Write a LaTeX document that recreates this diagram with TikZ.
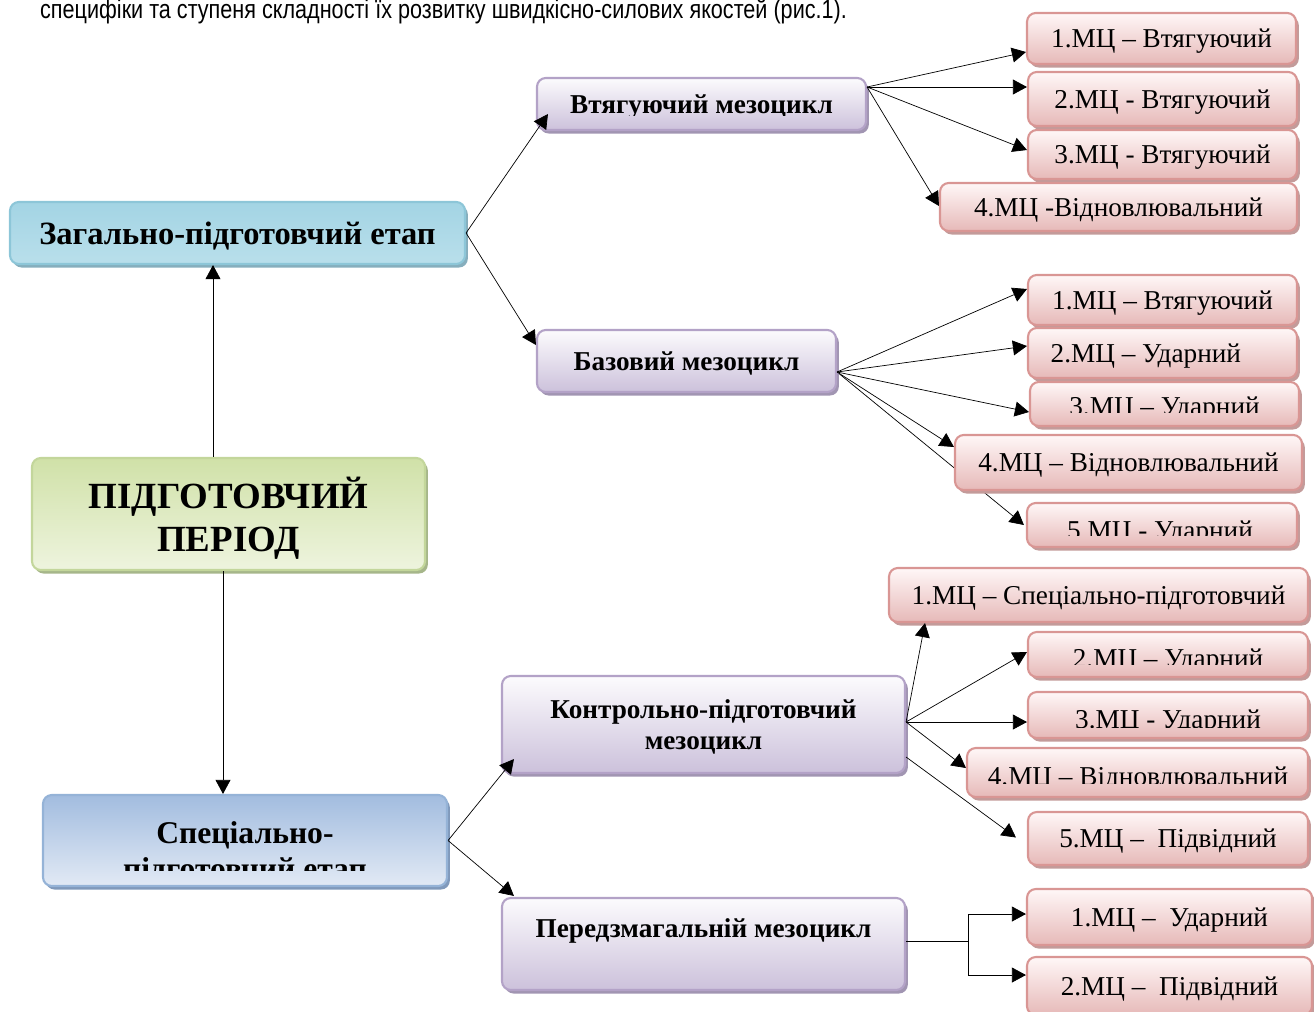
\documentclass[tikz,border=0pt]{standalone}
\usepackage{fontspec}
\setmainfont{Liberation Serif}
\newfontfamily\narrowsans[FakeStretch=0.82]{Liberation Sans}
\usetikzlibrary{arrows.meta,calc,shadows,backgrounds}
\definecolor{zagline}{HTML}{8DC6D8}
\definecolor{zagtop}{HTML}{A3D4E4}
\definecolor{zagmid}{HTML}{D8EEF5}
\definecolor{zagbot}{HTML}{B9DFEB}
\definecolor{zagshade}{HTML}{86AEBD}
\definecolor{pidline}{HTML}{C3D69B}
\definecolor{pidtop}{HTML}{D0E1A8}
\definecolor{pidbot}{HTML}{EEF4DE}
\definecolor{pidshade}{HTML}{A6B68A}
\definecolor{specline}{HTML}{95B3D7}
\definecolor{spectop}{HTML}{A2BCDF}
\definecolor{specbot}{HTML}{E2EAF5}
\definecolor{specshade}{HTML}{8099BB}
\definecolor{mesoline}{HTML}{B3A2C7}
\definecolor{mesotop}{HTML}{FCFBFD}
\definecolor{mesobot}{HTML}{CCC1DB}
\definecolor{mesoshade}{HTML}{A195B2}
\definecolor{mcline}{HTML}{D99694}
\definecolor{mctop}{HTML}{FFF7F7}
\definecolor{mcbot}{HTML}{E6B9B8}
\definecolor{mcshade}{HTML}{C39B9A}
\tikzset{sz/.style 2 args = {minimum width=#1*0.02cm, minimum height=#2*0.02cm}}
\newcommand\cuttext[5]{%
  \begin{scope}
  \clip (#1.north west) rectangle (#1.east |- 0,#4);
  \node[#2] (#1t) at #3 {#5};
  \end{scope}}

\begin{document}
\begin{tikzpicture}
[x=0.02cm,y=-0.02cm,>={Triangle[length=8pt,width=8.5pt]},line width=1.5pt,
box/.style = {draw, line width=1.2pt, rounded corners=5pt, inner sep=0pt, text depth=0pt},
zagbox/.style = {box, draw=zagline, top color=zagtop, middle color=zagmid, bottom color=zagbot, drop shadow={shadow xshift=1.6pt, shadow yshift=-2pt, fill=zagshade, opacity=1}, font=\fontsize{18.5}{21}\selectfont\bfseries},
pidbox/.style = {box, draw=pidline, top color=pidtop, bottom color=pidbot, drop shadow={shadow xshift=1.6pt, shadow yshift=-2pt, fill=pidshade, opacity=1}, font=\fontsize{21}{24.5}\selectfont\bfseries},
specbox/.style = {box, draw=specline, top color=spectop, bottom color=specbot, drop shadow={shadow xshift=1.6pt, shadow yshift=-2pt, fill=specshade, opacity=1}},
spectext/.style = {font=\fontsize{18}{20.5}\selectfont\bfseries, align=center},
meso/.style = {box, draw=mesoline, top color=mesotop, bottom color=mesobot, drop shadow={shadow xshift=1.6pt, shadow yshift=-2pt, fill=mesoshade, opacity=1}, font=\fontsize{15.5}{18}\selectfont\bfseries},
mesotext/.style = {font=\fontsize{15.5}{18}\selectfont\bfseries, anchor=base},
mc/.style = {box, draw=mcline, top color=mctop, bottom color=mcbot, drop shadow={shadow xshift=1.6pt, shadow yshift=-2pt, fill=mcshade, opacity=1}, font=\fontsize{15.5}{18}\selectfont},
mctext/.style = {font=\fontsize{15.5}{18}\selectfont, anchor=base},
]
\useasboundingbox (0,0) rectangle (1314,1011);
\node[anchor=base west,font=\narrowsans\fontsize{15}{17}\selectfont] (caption) at (33,18) {специфіки та ступеня складності їх розвитку швидкісно-силових якостей (рис.1).};
\node[zagbox,sz={455}{62}] (Zag) at (237.5,233) {Загально-підготовчий етап};
\node[pidbox,sz={393}{112},align=center] (Pid) at (228.5,514) {ПІДГОТОВЧИЙ\\ПЕРІОД};
\node[specbox,sz={404}{91}] (Spec) at (245,840.5) {};
\cuttext{Spec}{spectext}{(245,853)}{870}{Спеціально-\\підготовчий етап}
\node[meso,sz={329}{52}] (V) at (701.5,104) {};
\cuttext{V}{mesotext}{(701.5,113)}{115.5}{Втягуючий мезоцикл}
\node[meso,sz={299}{62}] (B) at (686.5,361) {Базовий мезоцикл};
\node[meso,sz={403}{97},align=center] (K) at (703.5,724.5) {Контрольно-підготовчий\\мезоцикл};
\node[meso,sz={403}{92},align=center] (P) at (703.5,944) {Передзмагальній мезоцикл\\\mbox{}};
\node[mc,sz={269}{51}] (a1) at (1161.5,38.5) {1.МЦ – Втягуючий};
\node[mc,sz={269}{54}] (a2) at (1162.5,99) {2.МЦ - Втягуючий};
\node[mc,sz={269}{49}] (a3) at (1162.5,154.5) {3.МЦ - Втягуючий};
\node[mc,sz={357}{48}] (a4) at (1118.5,207) {4.МЦ -Відновлювальний};
\node[mc,sz={269}{50}] (b1) at (1162.5,300) {1.МЦ – Втягуючий};
\node[mc,sz={269}{50}] (b2) at (1162.5,353) {2.МЦ – Ударний\hspace*{19pt}};
\node[mc,sz={269}{44}] (b3) at (1164.5,404) {};
\cuttext{b3}{mctext}{(1164.5,415)}{412}{3.МЦ – Ударний}
\node[mc,sz={270}{44}] (b5) at (1162,525) {};
\cuttext{b5}{mctext}{(1160,539)}{535}{5.МЦ - Ударний}
\begin{pgfonlayer}{background}
\coordinate (B-out) at (B.east |- 0,372);
\draw[->] (B-out) -- ($(b5.west)+(-2,0)$);
\end{pgfonlayer}
\node[mc,sz={347}{55}] (b4) at (1128.5,462.5) {4.МЦ – Відновлювальний};
\node[mc,sz={419}{54}] (c1) at (1098.5,595) {1.МЦ – Спеціально-підготовчий};
\node[mc,sz={280}{45}] (c2) at (1168,654.5) {};
\cuttext{c2}{mctext}{(1168,667)}{664}{2.МЦ – Ударний}
\node[mc,sz={280}{46}] (c3) at (1168,715) {};
\cuttext{c3}{mctext}{(1168,728)}{727}{3.МЦ - Ударний}
\node[mc,sz={341}{49}] (c4) at (1137.5,772.5) {};
\cuttext{c4}{mctext}{(1138,785)}{783}{4.МЦ – Відновлювальний}
\node[mc,sz={280}{53}] (c5) at (1168,838.5) {5.МЦ –\ \ Підвідний};
\node[mc,sz={285}{56}] (d1) at (1169.5,917) {1.МЦ –\ \ Ударний};
\node[mc,sz={285}{58}] (d2) at (1169.5,986) {2.МЦ –\ \ Підвідний};
\draw[->] (Zag.east) -- ($(V.south west)+(12,-17)$);
\draw[->] (Zag.east) -- ($(B.west)+(0,-16)$);
\draw[->] (Pid.north -| 213,0) -- (Zag.south -| 213,0);
\draw[->] (Pid.south -| 223,0) -- (Spec.north -| 223,0);
\draw[->] (Spec.east) -- ($(K.south west)+(13,-15)$);
\draw[->] (Spec.east) -- ($(P.north west)+(13,-1)$);
\coordinate (V-out) at (V.east |- 0,87);
\draw[->] (V-out) -- (a1.west |- 0,52);
\draw[->] (V-out) -- (a2.west |- V-out);
\draw[->] (V-out) -- (a3.west |- 0,150);
\draw[->] (V-out) -- (a4.west |- 0,206);
\draw[->] (B-out) -- (b1.west |- 0,289);
\draw[->] (B-out) -- (b2.west |- 0,346);
\draw[->] (B-out) -- (b3.west |- 0,412);
\draw[->] (B-out) -- (b4.west |- 0,447);
\coordinate (K-out) at (K.east |- 0,722);
\draw[->] (K-out) -- (c1.south -| 925,0);
\draw[->] (K-out) -- (c2.west |- 0,652);
\draw[->] (K-out) -- (c3.west |- K-out);
\draw[->] (K-out) -- (c4.west |- 0,768);
\draw[->] (K.east |- 0,757) -- ($(c5.west)+(-11,-1)$);
\coordinate (P-out) at (P.east |- 0,941);
\coordinate (P-j) at ($(P-out)+(62,0)$);
\draw (P-out) -- (P-j);
\draw[->] (P-j) |- (d1.west |- 0,914);
\draw[->] (P-j) |- (d2.west |- 0,975);
\end{tikzpicture}
\end{document}
